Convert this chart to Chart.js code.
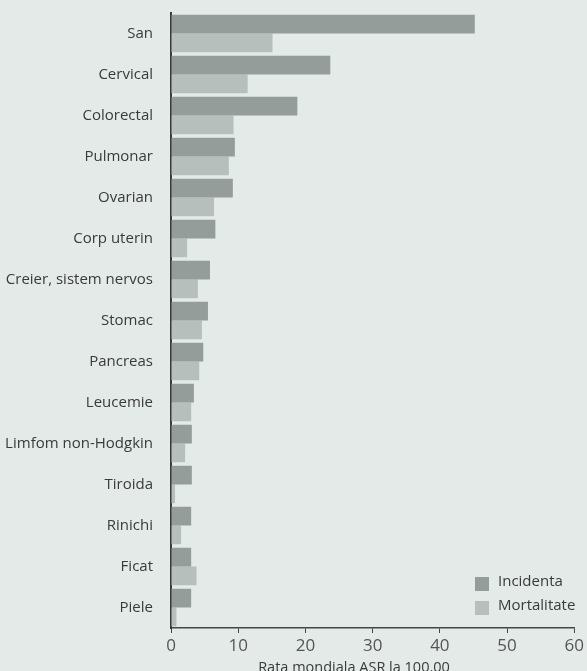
<!DOCTYPE html>
<html>
<head>
<meta charset="utf-8">
<script src="https://cdn.jsdelivr.net/npm/chart.js@4"></script>
<style>
  html, body { margin: 0; padding: 0; background: #e3eae7; }
  canvas { display: block; }
</style>
</head>
<body>
<canvas id="myChart" width="587" height="671"></canvas>
<script>
// Chart data
const categories = ["San", "Cervical", "Colorectal", "Pulmonar", "Ovarian", "Corp uterin",
  "Creier, sistem nervos", "Stomac", "Pancreas", "Leucemie", "Limfom non-Hodgkin",
  "Tiroida", "Rinichi", "Ficat", "Piele"];
const incidenta = [45.2, 23.7, 18.8, 9.5, 9.2, 6.6, 5.8, 5.5, 4.8, 3.4, 3.1, 3.1, 3.0, 3.0, 3.0];
const mortalitate = [15.1, 11.4, 9.3, 8.6, 6.4, 2.4, 4.0, 4.6, 4.2, 3.0, 2.1, 0.6, 1.5, 3.8, 0.8];
const seriesNames = ["Incidenta", "Mortalitate"];
const xTicks = [0, 10, 20, 30, 40, 50, 60];
const axisTitle = "Rata mondiala ASR la 100.00";

const incColor = "#949d9a";
const mortColor = "#b6bfbc";

// legend drawn inside the plot, bottom right
const insideLegend = {
  id: "insideLegend",
  afterDraw(chart) {
    const ctx = chart.ctx;
    ctx.save();
    ctx.font = "15px 'Open Sans'";
    ctx.textBaseline = "middle";
    chart.data.datasets.forEach((ds, i) => {
      const y = 584 + i * 24;
      ctx.fillStyle = ds.backgroundColor;
      ctx.fillRect(475, y - 7, 14, 14);
      ctx.fillStyle = "#3a3a3a";
      ctx.fillText(ds.label, 498, y - 2);
    });
    ctx.restore();
  }
};

// x axis title, sits low and is cut by the page edge
const xTitle = {
  id: "xTitle",
  afterDraw(chart) {
    const ctx = chart.ctx;
    ctx.save();
    ctx.font = "14.5px 'Open Sans'";
    ctx.fillStyle = "#3a3a3a";
    ctx.textAlign = "center";
    ctx.textBaseline = "alphabetic";
    ctx.fillText(axisTitle, 354, 672);
    ctx.restore();
  }
};

const ctx = document.getElementById("myChart").getContext("2d");
const chart = new Chart(ctx, {
  type: "bar",
  data: {
    labels: categories,
    datasets: [
      { label: seriesNames[0], data: incidenta, backgroundColor: incColor },
      { label: seriesNames[1], data: mortalitate, backgroundColor: mortColor }
    ]
  },
  options: {
    responsive: false,
    animation: false,
    indexAxis: "y",
    categoryPercentage: 0.92,
    barPercentage: 1.0,
    layout: { padding: { top: 13, right: 11, left: 0, bottom: 0 } },
    plugins: {
      legend: { display: false },
      tooltip: { enabled: false }
    },
    scales: {
      x: {
        min: 0,
        max: 60,
        afterBuildTicks: (scale) => { scale.ticks = xTicks.map(v => ({ value: v })); },
        afterFit: (scale) => { scale.height = 43; },
        grid: { display: true, drawOnChartArea: false, drawTicks: true, tickLength: 5, color: "#444", lineWidth: 1 },
        border: { display: true, color: "#444", width: 1.5 },
        ticks: { color: "#555", padding: 3, font: { family: "'Open Sans'", size: 17 } }
      },
      y: {
        afterFit: (scale) => {
          scale.width = 171;
          scale.paddingTop = 0;
          scale.paddingBottom = 0;
        },
        grid: { display: false, drawTicks: false },
        border: { display: true, color: "#3a3a3a", width: 2 },
        ticks: { color: "#3a3a3a", padding: 18, font: { family: "'Open Sans'", size: 15 } }
      }
    }
  },
  plugins: [insideLegend, xTitle]
});
</script>
</body>
</html>
